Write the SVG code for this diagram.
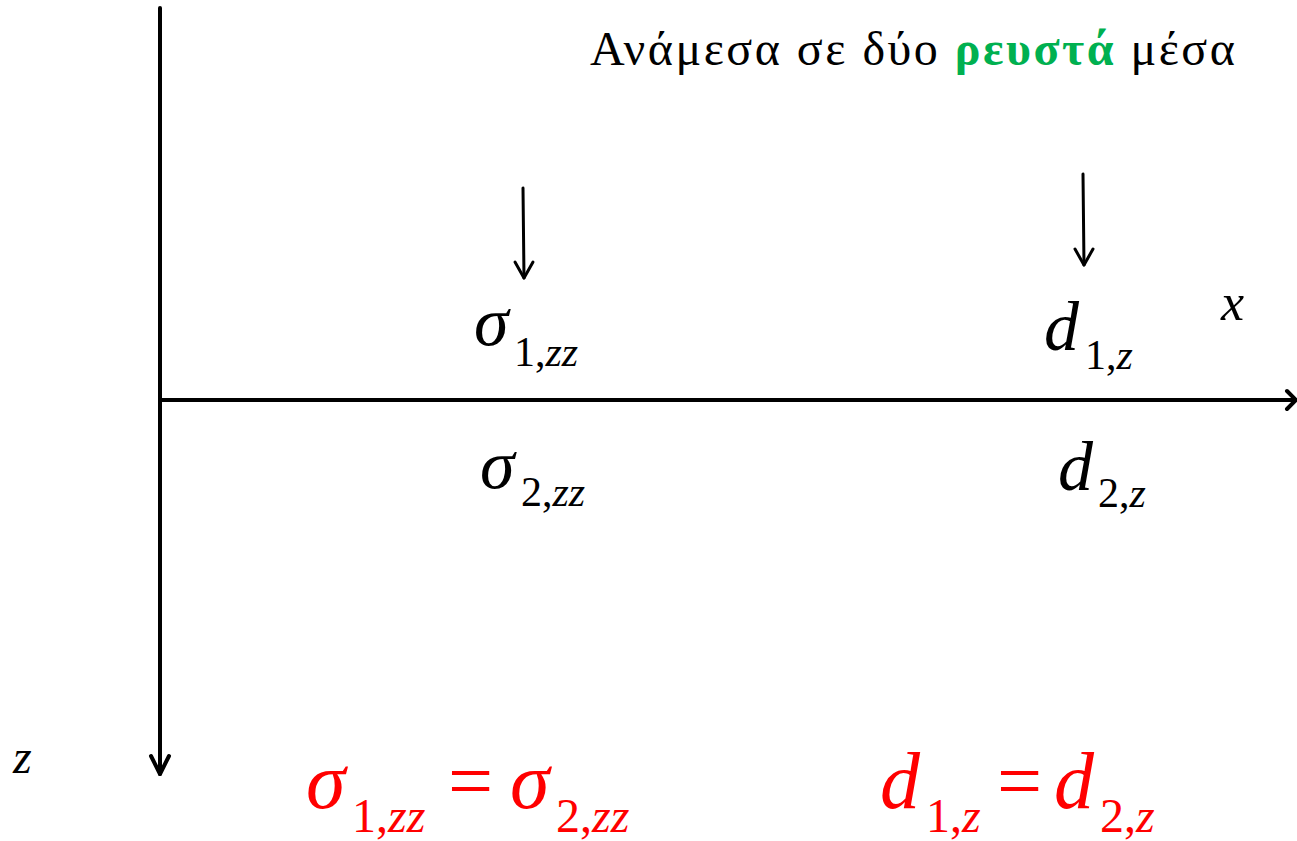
<svg xmlns="http://www.w3.org/2000/svg" width="1297" height="841" viewBox="0 0 1297 841">
<style>
.ax{stroke:#000;stroke-width:4;fill:none;stroke-linecap:round;stroke-linejoin:round}
.ar{stroke:#000;stroke-width:3;fill:none;stroke-linecap:round;stroke-linejoin:round}
.it{font-style:italic}
.big{font-size:70px}
.sub{font-size:42px}
.red{fill:#FF0000}
.rbig{font-size:80px}
.rsub{font-size:48px}
</style>
<rect width="1297" height="841" fill="#fff"/>
<g id="connectors">
<path class="ax" d="M160 8 V774"/>
<path class="ax" d="M151 756 L160 774 L169 756"/>
<path class="ax" d="M160 400 H1295"/>
<path class="ax" d="M1287 391 L1296 400 L1287 409"/>
<path class="ar" d="M523 188 L524 278"/>
<path class="ar" d="M515 262 L524 278 L533 262"/>
<path class="ar" d="M1083 174 L1084 265"/>
<path class="ar" d="M1075 249 L1084 265 L1093 249"/>
</g>
<g font-family="Liberation Serif, serif">
<g id="title"><text x="590" y="65" font-size="48" letter-spacing="2.5">Ανάμεσα σε δύο <tspan fill="#00B050" font-weight="bold">ρευστά</tspan>  μέσα</text></g>
<g id="sigma1"><text y="345"><tspan class="it big" x="474">σ</tspan><tspan class="sub" x="514" y="366">1,</tspan><tspan class="sub it">zz</tspan></text></g>
<g id="sigma2"><text y="488"><tspan class="it big" x="480">σ</tspan><tspan class="sub" x="521" y="506">2,</tspan><tspan class="sub it">zz</tspan></text></g>
<g id="d1"><text y="350"><tspan class="it big" x="1044">d</tspan><tspan class="sub" x="1085" y="369">1,</tspan><tspan class="sub it">z</tspan></text></g>
<g id="d2"><text y="490"><tspan class="it big" x="1058">d</tspan><tspan class="sub" x="1098" y="507">2,</tspan><tspan class="sub it">z</tspan></text></g>
<g id="xlabel"><text class="it" x="1221" y="320" font-size="52">x</text></g>
<g id="zlabel"><text class="it" x="13" y="773" font-size="48">z</text></g>
<g id="eq1"><text class="red" y="808"><tspan class="it rbig" x="306">σ</tspan><tspan class="rsub" x="352" y="832">1,</tspan><tspan class="rsub it">zz</tspan><tspan class="rbig" x="448" y="808">=</tspan><tspan class="it rbig" x="510">σ</tspan><tspan class="rsub" x="556" y="832">2,</tspan><tspan class="rsub it">zz</tspan></text></g>
<g id="eq2"><text class="red" y="808"><tspan class="it rbig" x="880">d</tspan><tspan class="rsub" x="926" y="832">1,</tspan><tspan class="rsub it">z</tspan><tspan class="rbig" x="997" y="808">=</tspan><tspan class="it rbig" x="1054">d</tspan><tspan class="rsub" x="1100" y="832">2,</tspan><tspan class="rsub it">z</tspan></text></g>
</g>
</svg>
